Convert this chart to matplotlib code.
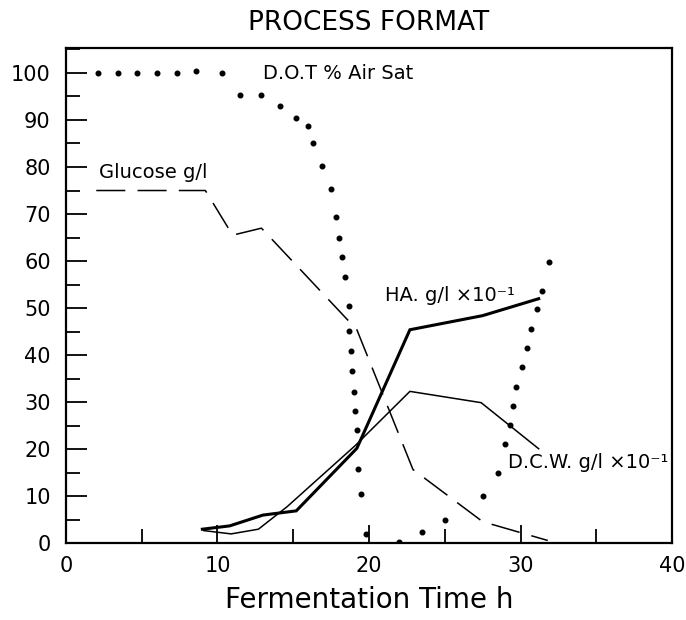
import matplotlib
matplotlib.use("Agg")
import matplotlib.pyplot as plt
from matplotlib.ticker import MultipleLocator

plt.rcParams['font.family'] = ['DejaVu Sans']

# DOT % Air Sat (dotted markers)
dot_x = [2.1, 3.4, 4.7, 6.0, 7.3, 8.6, 10.3, 11.5, 12.9, 14.1, 15.2, 16.0, 16.3,
         16.9, 17.5, 17.8, 18.0, 18.2, 18.4, 18.7, 18.7, 18.8, 18.9, 19.0, 19.1,
         19.2, 19.3, 19.5, 19.8, 22.0, 23.5, 25.0, 27.5, 28.5, 29.0, 29.3, 29.5,
         29.7, 30.1, 30.4, 30.7, 31.1, 31.4, 31.9]
dot_y = [100, 100, 100, 100, 100, 100.5, 100, 95.2, 95.2, 93.0, 90.4, 88.8, 85.1,
         80.3, 75.4, 69.3, 64.9, 60.8, 56.6, 50.5, 45.2, 40.9, 36.7, 32.1, 28.1,
         24.0, 15.7, 10.4, 2.0, 0.3, 2.3, 5.0, 10.1, 15.0, 21.1, 25.2, 29.2,
         33.3, 37.4, 41.5, 45.5, 49.8, 53.7, 59.8]

# Glucose g/l (dashed)
glu_x = [2.0, 9.2, 11.0, 12.9, 19.2, 22.9, 27.5, 31.8]
glu_y = [75.0, 75.0, 65.5, 67.0, 45.4, 15.7, 4.6, 0.6]

# HA g/l x10^-1 (thick line)
ha_x = [9.0, 10.8, 13.0, 15.2, 19.2, 22.7, 27.5, 31.2]
ha_y = [3.0, 3.7, 6.0, 6.9, 20.2, 45.4, 48.4, 52.0]

# DCW g/l x10^-1 (thin line)
dcw_x = [9.1, 10.9, 12.7, 14.6, 19.1, 22.7, 27.4, 31.2]
dcw_y = [2.7, 2.0, 3.0, 7.8, 20.8, 32.3, 29.9, 20.1]

x_ticks = [0, 10, 20, 30, 40]
y_ticks = [0, 10, 20, 30, 40, 50, 60, 70, 80, 90, 100]

fig = plt.figure(figsize=(6.86, 6.2), dpi=100)
ax = fig.add_axes([0.0962, 0.1237, 0.8834, 0.7989])

ax.plot(dot_x, dot_y, linestyle='none', marker='o', markersize=3.3, color='black')
ax.plot(glu_x, glu_y, color='black', lw=1.1, linestyle=(0, (19, 8)))
ax.plot(ha_x, ha_y, color='black', lw=2.2, solid_joinstyle='miter')
ax.plot(dcw_x, dcw_y, color='black', lw=1.1)

ax.set_xlim(0, 40)
ax.set_ylim(0, 105.3)
ax.set_xticks(x_ticks)
ax.set_yticks(y_ticks)
ax.xaxis.set_minor_locator(MultipleLocator(5))
ax.yaxis.set_minor_locator(MultipleLocator(5))
ax.tick_params(which='major', direction='in', length=14, width=1.3,
               labelsize=15, top=False, right=False)
ax.tick_params(axis='y', which='major', length=15, pad=11)
ax.tick_params(axis='x', which='major', length=13, pad=9)
ax.tick_params(which='minor', direction='in', length=10, width=1.3, top=False, right=False)
for s in ax.spines.values():
    s.set_linewidth(1.6)

ax.text(13.0, 99.8, 'D.O.T % Air Sat', fontsize=14, va='center', ha='left')
ax.text(2.2, 78.8, 'Glucose g/l', fontsize=14, va='center', ha='left')
ax.text(21.05, 52.6, 'HA. g/l \u00d710\u207b\u00b9', fontsize=14, va='center', ha='left')
ax.text(29.2, 17.1, 'D.C.W. g/l \u00d710\u207b\u00b9', fontsize=14, va='center', ha='left')

ax.set_title('PROCESS FORMAT', fontsize=19, pad=13)
ax.set_xlabel('Fermentation Time h', fontsize=20, labelpad=7)

fig.savefig('out.png', dpi=100)
